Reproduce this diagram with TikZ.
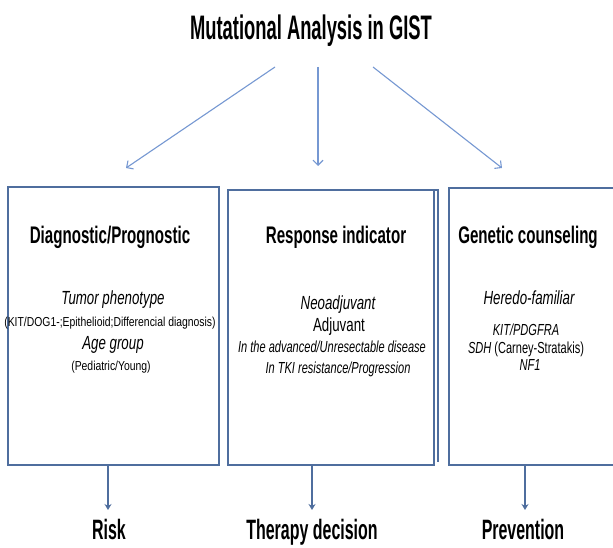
\documentclass[tikz,border=0pt]{standalone}
\usepackage{fontspec}
\setmainfont{Liberation Sans}
\newfontfamily\ftitle[FakeStretch=0.54]{Liberation Sans}
\newfontfamily\fbottom[FakeStretch=0.57]{Liberation Sans}
\newfontfamily\fhead[FakeStretch=0.63]{Liberation Sans}
\newfontfamily\fitem[FakeStretch=0.7]{Liberation Sans}
\newfontfamily\fmid[FakeStretch=0.69]{Liberation Sans}
\newfontfamily\fsmall[FakeStretch=0.8]{Liberation Sans}
\usetikzlibrary{arrows.meta}
\definecolor{boxblue}{RGB}{79,110,158}
\definecolor{arrblue}{RGB}{118,152,210}
\begin{document}
\begin{tikzpicture}[x=1pt,y=-1pt,
  every node/.style={inner sep=0pt, outer sep=0pt},
  boxframe/.style={draw=boxblue, line width=2pt, anchor=north west},
  toparrow/.style={draw=arrblue, line width=1.1pt, -{Straight Barb[length=5pt,width=10pt]}},
  downarrow/.style={draw=boxblue, line width=2.6pt, -{Stealth[length=6pt,width=7pt]}},
  ttl/.style={anchor=base, font=\ftitle\bfseries\fontsize{34}{38}\selectfont},
  head/.style={anchor=base, font=\fhead\bfseries\fontsize{24}{27}\selectfont},
  bigit/.style={anchor=base, font=\fitem\itshape\fontsize{19}{22}\selectfont},
  bigup/.style={anchor=base, font=\fitem\fontsize{19}{22}\selectfont},
  midit/.style={anchor=base, font=\fmid\itshape\fontsize{16}{18}\selectfont},
  midup/.style={anchor=base, font=\fmid\fontsize{16}{18}\selectfont},
  smallup/.style={anchor=base, font=\fsmall\fontsize{13}{15}\selectfont},
  result/.style={anchor=base, font=\fbottom\bfseries\fontsize{28}{31}\selectfont}
]
\useasboundingbox (0,0) rectangle (613,548);
\clip (0,0) rectangle (613,548);
\fill[white] (0,0) rectangle (613,548);

% title
\node[ttl] (title) at (311,40) {Mutational Analysis in GIST};

% boxes
\node[boxframe, minimum width=211pt, minimum height=278pt] (box1) at (8,187) {};
\node[boxframe, minimum width=206pt, minimum height=275pt] (box2) at (228,190) {};
\node[boxframe, minimum width=181pt, minimum height=277pt] (box3) at (449,188) {};
\draw[boxblue, line width=2pt] (box2.north east) -- ++(4,0) -- ++(0,272);

% top arrows
\coordinate (t1) at (275,67);
\coordinate (t2) at (318,67);
\coordinate (t3) at (373,67);
\coordinate (b1) at (126,168);
\coordinate (b2) at (318,166);
\coordinate (b3) at (502,168);
\draw[toparrow] (t1) -- (b1);
\draw[toparrow] (t2) -- (b2);
\draw[toparrow] (t3) -- (b3);

% box 1 text
\node[head] (h1) at (110,243.5) {Diagnostic/Prognostic};
\node[bigit] (l1a) at (113,304) {Tumor phenotype};
\node[smallup] (l1b) at (110,326.5) {(KIT/DOG1-;Epithelioid;Differencial diagnosis)};
\node[bigit] (l1c) at (113,349) {Age group};
\node[smallup] (l1d) at (111,370.5) {(Pediatric/Young)};

% box 2 text
\node[head] (h2) at (336,243.5) {Response indicator};
\node[bigit] (l2a) at (338,309) {Neoadjuvant};
\node[bigup] (l2b) at (339,331) {Adjuvant};
\node[midit] (l2c) at (332,352.5) {In the advanced/Unresectable disease};
\node[midit] (l2d) at (338,373.5) {In TKI resistance/Progression};

% box 3 text
\node[head] (h3) at (528,243.5) {Genetic counseling};
\node[bigit] (l3a) at (529,304) {Heredo-familiar};
\node[midit] (l3b) at (526,335.5) {KIT/PDGFRA};
\node[midup] (l3c) at (526,353.5) {\textit{SDH} (Carney-Stratakis)};
\node[midit] (l3d) at (530,370.5) {NF1};

% results
\node[result] (r1) at (109,539) {Risk};
\node[result] (r2) at (312,539) {Therapy decision};
\node[result] (r3) at (523,539) {Prevention};

\coordinate (e1) at (108,510);
\coordinate (e2) at (312,510);
\coordinate (e3) at (525,510);
\draw[downarrow] (box1.south -| e1) -- (e1);
\draw[downarrow] (box2.south -| e2) -- (e2);
\draw[downarrow] (box3.south -| e3) -- (e3);
\end{tikzpicture}
\end{document}
